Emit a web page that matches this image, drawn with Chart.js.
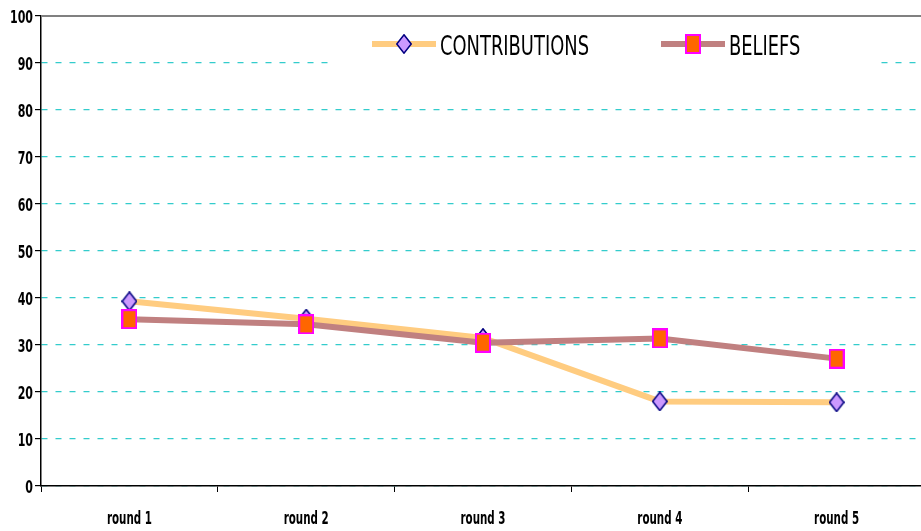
<!DOCTYPE html>
<html>
<head>
<meta charset="utf-8">
<script src="https://cdn.jsdelivr.net/npm/chart.js@4"></script>
<style>
  html, body { margin: 0; padding: 0; background: #fff; overflow: hidden; }
  #wrap { width: 940px; height: 531px; }
</style>
</head>
<body>
<div id="wrap"><canvas id="c"></canvas></div>
<script>
// values
const rounds = ["round 1", "round 2", "round 3", "round 4", "round 5"];
const contributions = [39.3, 35.6, 31.5, 18.0, 17.8];
const beliefs = [35.5, 34.4, 30.5, 31.4, 27.1];
const seriesNames = ["CONTRIBUTIONS", "BELIEFS"];

const COND = "'DejaVu Sans Condensed', 'DejaVu Sans', sans-serif";

// marker glyphs: slightly taller than wide, like the original
function marker(kind) {
  const c = document.createElement("canvas");
  c.width = 16; c.height = 20;
  const x = c.getContext("2d");
  if (kind === "diamond") {
    x.beginPath();
    x.moveTo(8, 0.8); x.lineTo(15.2, 10); x.lineTo(8, 19.2); x.lineTo(0.8, 10); x.closePath();
    x.fillStyle = "#cc99ff"; x.fill();
    x.lineWidth = 1.5; x.strokeStyle = "#000080"; x.stroke();
  } else {
    x.fillStyle = "#ff6600"; x.fillRect(1, 1, 14, 18);
    x.lineWidth = 2; x.strokeStyle = "#ff00ff"; x.strokeRect(1, 1, 14, 18);
  }
  return c;
}
const diamond = marker("diamond"), square = marker("square");

// squeezed text, the original uses a very narrow face
function narrowText(ctx, text, x, y, font, sx, align) {
  ctx.save();
  ctx.font = font;
  ctx.textAlign = align;
  ctx.translate(x, y);
  ctx.scale(sx, 1);
  ctx.fillText(text, 0, 0);
  ctx.restore();
}
function fitScale(ctx, font, sample, target) {
  ctx.save(); ctx.font = font;
  const w = ctx.measureText(sample).width;
  ctx.restore();
  return target / w;
}

const tickLabels = {
  id: "tickLabels",
  afterDraw(chart) {
    const { ctx, scales } = chart;
    ctx.save();
    ctx.fillStyle = "#000";
    ctx.textBaseline = "alphabetic";
    const yf = "bold 18px " + COND;
    const ys = fitScale(ctx, yf, "100", 23);
    scales.y.ticks.forEach((t, i) => {
      narrowText(ctx, String(t.value), 33, scales.y.getPixelForTick(i) + 6.5, yf, ys, "right");
    });
    const xf = "bold 17px " + COND;
    const xs = fitScale(ctx, xf, "round 1", 45);
    scales.x.ticks.forEach((t, i) => {
      narrowText(ctx, rounds[t.value], scales.x.getPixelForTick(i), 524, xf, xs, "center");
    });
    ctx.restore();
  },
};

const legendBox = {
  id: "legendBox",
  afterDraw(chart) {
    const ctx = chart.ctx;
    ctx.save();
    ctx.fillStyle = "#fff";
    ctx.fillRect(333, 22, 545, 44);
    const lf = "27px " + COND;
    const ls = fitScale(ctx, lf, seriesNames[0], 149);
    const items = [
      { x: 372, color: "#ffcc80", img: diamond, text: seriesNames[0] },
      { x: 661, color: "#c08080", img: square, text: seriesNames[1] },
    ];
    items.forEach((it) => {
      ctx.strokeStyle = it.color; ctx.lineWidth = 6;
      ctx.beginPath(); ctx.moveTo(it.x, 44); ctx.lineTo(it.x + 64, 44); ctx.stroke();
      ctx.drawImage(it.img, it.x + 32 - 8, 44 - 10);
      ctx.fillStyle = "#000";
      ctx.textBaseline = "alphabetic";
      narrowText(ctx, it.text, it.x + 68, 55, lf, ls, "left");
    });
    ctx.restore();
  },
  beforeDatasetsDraw(chart) {
    // solid grey line at 100
    const { ctx, chartArea: a, scales } = chart;
    const y = Math.round(scales.y.getPixelForValue(100));
    ctx.save();
    ctx.strokeStyle = "#808080"; ctx.lineWidth = 2;
    ctx.beginPath(); ctx.moveTo(a.left, y); ctx.lineTo(a.right, y); ctx.stroke();
    ctx.restore();
  },
};

new Chart(document.getElementById("c"), {
  type: "line",
  data: {
    labels: rounds,
    datasets: [
      { label: seriesNames[0], data: contributions, borderColor: "#ffcc80", borderWidth: 6,
        pointStyle: diamond, pointRadius: 9, tension: 0, order: 1 },
      { label: seriesNames[1], data: beliefs, borderColor: "#c08080", borderWidth: 6,
        pointStyle: square, pointRadius: 9, tension: 0, order: 0 },
    ],
  },
  options: {
    responsive: true, maintainAspectRatio: false, animation: false,
    layout: { padding: { top: 16, right: 9, left: 0, bottom: 0 } },
    plugins: { legend: { display: false }, tooltip: { enabled: false } },
    scales: {
      x: {
        offset: true,
        grid: { offset: true, drawOnChartArea: false, drawTicks: true, tickLength: 6, tickColor: "#000" },
        border: { color: "#000", width: 1.5 },
        ticks: { display: false },
        afterFit: (s) => { s.height = 45; },
      },
      y: {
        min: 0, max: 100,
        ticks: { stepSize: 10, display: false },
        grid: { color: "#33cccc", lineWidth: 1.2, tickLength: 6, tickColor: "#000", tickWidth: 1.2 },
        border: { color: "#000", width: 1.5, dash: [6, 8] },
        afterFit: (s) => { s.width = 41; },
      },
    },
  },
  plugins: [tickLabels, legendBox],
});
</script>
</body>
</html>
